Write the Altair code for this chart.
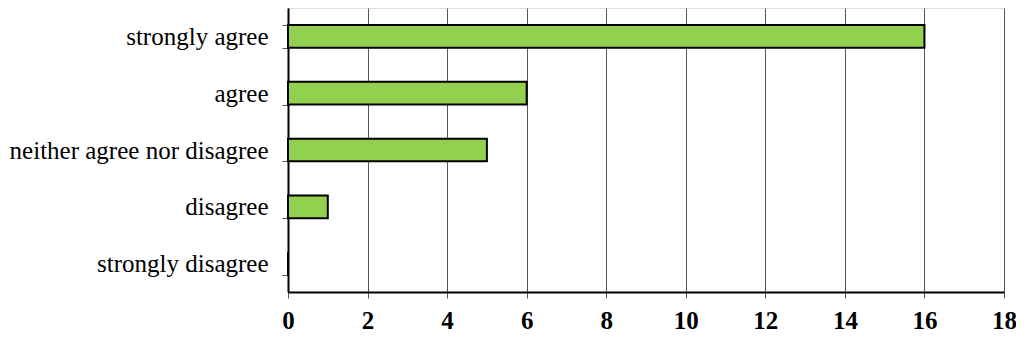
import altair as alt
import pandas as pd

categories = ["strongly agree", "agree", "neither agree nor disagree", "disagree", "strongly disagree"]
counts = [16, 6, 5, 1, 0]
x_ticks = [0, 2, 4, 6, 8, 10, 12, 14, 16, 18]

df = pd.DataFrame({"category": categories, "count": counts})

FONT = "Liberation Serif"

chart = alt.Chart(df).mark_bar(
    fill="#92D050", stroke="black", strokeWidth=2
).encode(
    x=alt.X("count:Q",
            scale=alt.Scale(domain=[0, 18], nice=False),
            axis=alt.Axis(values=x_ticks, title=None, grid=True, gridColor="#555555",
                          gridWidth=1, domainColor="black", domainWidth=2,
                          tickColor="#555555", tickSize=6, labelPadding=10,
                          labelFlush=False,
                          labelFont=FONT, labelFontSize=25, labelFontWeight="bold",
                          labelColor="black")),
    y=alt.Y("category:N", sort=categories,
            scale=alt.Scale(paddingInner=0.6, paddingOuter=0.3),
            axis=alt.Axis(title=None, tickBand="extent", tickColor="#555555", tickSize=6,
                          labelPadding=14, domainColor="black", domainWidth=2,
                          labelLimit=0,
                          labelFont=FONT, labelFontSize=25, labelColor="black",
                          labelFontWeight="normal")),
).properties(
    width=716, height=284,
    autosize=alt.AutoSizeParams(type="none"),
    padding={"left": 280, "top": 0, "right": 12, "bottom": 42},
).configure_view(
    stroke="black", strokeWidth=2
).configure(background="white")

chart.save("out.html", embed_options={"renderer": "svg", "actions": False})
